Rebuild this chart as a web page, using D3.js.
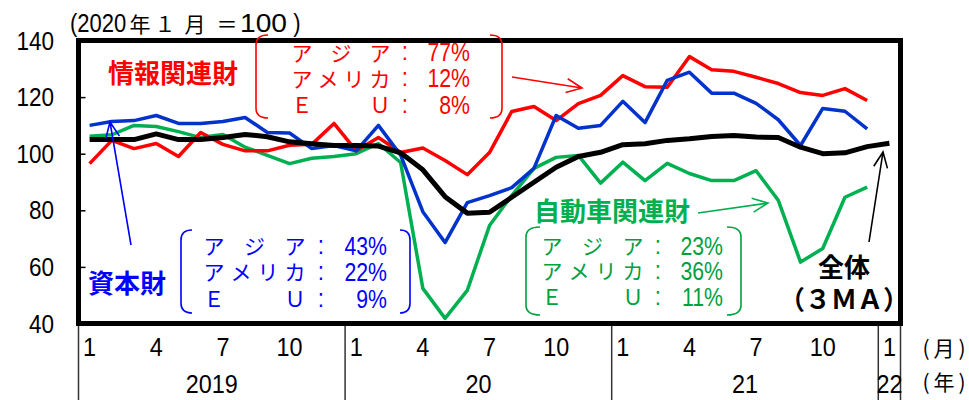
<!DOCTYPE html>
<html>
<head>
<meta charset="utf-8">
<script src="https://cdn.jsdelivr.net/npm/d3@7"></script>
<style>
  html, body { margin: 0; padding: 0; background: #fff; }
  svg { display: block; }
</style>
</head>
<body>
<svg id="chart" width="969" height="400"></svg>
<script>
// ---- Data -------------------------------------------------------------
// Monthly categories: Jan 2019 … Jan 2022
const years = ["2019", "2020", "2021", "2022"];
const categories = [];
years.forEach(yr => {
  for (let m = 1; m <= 12; m++) {
    if (yr === "2022" && m > 1) break;
    categories.push(yr + "-" + String(m).padStart(2, "0"));
  }
});

// Axis labels
const yTicks = [40, 60, 80, 100, 120, 140];
const monthTicks = ["1", "4", "7", "10"];
const yearAxisLabels = ["2019", "20", "21", "22"];

// Export indices (2020 Jan = 100)
const infoGoods = [96.5, 104.7, 101.8, 103.6, 99.0, 107.5, 103.3, 101.0, 101.0, 103.0, 103.3, 110.7,
                   101.0, 105.7, 100.4, 102.0, 97.6, 92.6, 100.4, 114.9, 116.7, 111.7, 117.7, 120.6,
                   127.6, 123.7, 123.5, 134.3, 129.7, 129.1, 127.0, 124.8, 121.6, 120.6, 123.0, 118.8];
const capitalGoods = [110.0, 111.4, 111.7, 113.5, 110.7, 110.7, 111.4, 112.8, 107.5, 107.3, 101.8, 102.9,
                      101.0, 110.0, 99.5, 79.5, 68.6, 82.7, 85.2, 88.0, 94.8, 113.5, 109.0, 110.0,
                      118.5, 111.0, 125.9, 128.8, 121.4, 121.4, 117.8, 112.0, 102.9, 116.0, 115.0, 108.8];
const autoGoods = [106.2, 106.7, 110.0, 109.6, 107.8, 105.7, 106.8, 102.3, 99.4, 96.5, 98.4, 99.0,
                   100.0, 103.6, 96.9, 52.4, 41.8, 51.7, 74.6, 85.2, 94.8, 98.7, 99.4, 89.6,
                   97.0, 90.5, 96.6, 93.0, 90.5, 90.5, 94.0, 83.5, 61.7, 66.5, 84.6, 88.2];
const total3MA = [105.0, 105.0, 105.0, 107.0, 105.0, 105.0, 105.7, 106.8, 106.0, 104.2, 103.5, 102.9,
                  102.9, 102.7, 100.3, 94.3, 84.8, 79.0, 79.3, 84.6, 89.9, 95.2, 99.0, 100.5,
                  103.2, 103.5, 104.7, 105.3, 106.1, 106.4, 105.9, 105.7, 102.3, 100.0, 100.3, 102.5, 103.7];

// Destination shares for each goods group
const regionNames = ["アジア", "アメリカ", "ＥＵ"];
const infoShares = ["77%", "12%", "8%"];
const capitalShares = ["43%", "22%", "9%"];
const autoShares = ["23%", "36%", "11%"];

// ---- Colours ----------------------------------------------------------
const RED = "#ff0000", BLUE = "#0033cc", BLUE_TXT = "#0000ff",
      GREEN = "#00b050", GREEN_TXT = "#00a040", BLACK = "#000000";
const JP = "'Noto Sans CJK JP', 'Noto Sans', sans-serif";
const NUM = "'Liberation Sans', Arial, sans-serif";

// ---- Scales -----------------------------------------------------------
const svg = d3.select("#chart");
const plotL = 78.5, plotR = 900.5, plotT = 40.5, plotB = 323.5;

const x = d3.scaleBand().domain(categories).range([plotL, plotR]).padding(0);
const cx = c => x(c) + x.bandwidth() / 2;
const y = d3.scaleLinear().domain([40, 140]).range([plotB, plotT]);

// Horizontally condensed numeric text
function ntext(parent, px, py, str, size, anchor, sx = 0.9, color = BLACK, weight = "normal") {
  return parent.append("text")
    .attr("transform", `translate(${px},${py}) scale(${sx},1)`)
    .attr("text-anchor", anchor)
    .attr("font-family", NUM)
    .attr("font-size", size)
    .attr("font-weight", weight)
    .attr("fill", color)
    .text(str);
}

// ---- Y axis (inward ticks) -------------------------------------------
const yAxis = svg.append("g")
  .attr("transform", `translate(${plotL},0)`)
  .call(d3.axisLeft(y).tickValues(yTicks).tickSize(-7).tickFormat(""));
yAxis.select(".domain").remove();
yAxis.selectAll(".tick line").attr("stroke", BLACK).attr("stroke-width", 1.5);
yTicks.forEach(v => ntext(svg, 54, y(v) + 9, String(v), 25, "end"));

// ---- X axis: months & years ------------------------------------------
const axisG = svg.append("g");
categories.forEach(c => {
  const m = String(+c.slice(5));
  if (monthTicks.includes(m)) {
    ntext(axisG, cx(c), 356, m, 26, "middle");
  }
});
// year separators
const yearStarts = years.map(yr => categories.indexOf(yr + "-01"));
const sepX = yearStarts.map(i => x(categories[i])).concat([plotR]);
sepX.forEach(px => {
  axisG.append("line")
    .attr("x1", px).attr("x2", px).attr("y1", plotB).attr("y2", 400)
    .attr("stroke", "#333").attr("stroke-width", 1.5);
});
years.forEach((yr, k) => {
  const mid = (sepX[k] + sepX[k + 1]) / 2;
  ntext(axisG, mid, 393, yearAxisLabels[k], 26, "middle");
});
// unit labels
[["(", 926], ["月", 944], [")", 962]].forEach(([t, px]) =>
  svg.append("text").attr("x", px).attr("y", 356).attr("text-anchor", "middle")
    .attr("font-family", JP).attr("font-size", 21).text(t));
[["(", 926], ["年", 944], [")", 962]].forEach(([t, px]) =>
  svg.append("text").attr("x", px).attr("y", 390).attr("text-anchor", "middle")
    .attr("font-family", JP).attr("font-size", 21).text(t));

// base note: (2020年１月＝100)
const note = svg.append("g").attr("font-family", JP).attr("fill", BLACK);
ntext(note, 70, 32, "(2020", 25, "start", 0.88);
[["年", 140], ["１", 165], ["月", 195], ["＝", 227]].forEach(([t, px]) =>
  note.append("text").attr("x", px).attr("y", 32).attr("font-size", 21)
    .attr("text-anchor", "middle").text(t));
note.append("text").attr("x", 240).attr("y", 32)
  .attr("font-family", NUM).attr("font-size", 25)
  .attr("textLength", 47).attr("lengthAdjust", "spacingAndGlyphs").text("100");
ntext(note, 297, 32, ")", 25, "middle", 0.88);

// ---- Series lines ----------------------------------------------------
const line = d3.line().x((d, i) => cx(categories[i])).y(d => y(d));
const series = [
  { data: autoGoods, color: GREEN, w: 3.5 },
  { data: infoGoods, color: RED, w: 3.5 },
  { data: capitalGoods, color: BLUE, w: 3.5 },
  { data: total3MA, color: BLACK, w: 5 }
];
series.forEach(s => {
  svg.append("path").datum(s.data)
    .attr("d", line)
    .attr("fill", "none")
    .attr("stroke", s.color)
    .attr("stroke-width", s.w)
    .attr("stroke-linejoin", "round");
});

// ---- Plot frame ------------------------------------------------------
svg.append("rect")
  .attr("x", plotL).attr("y", plotT)
  .attr("width", plotR - plotL).attr("height", plotB - plotT)
  .attr("fill", "none").attr("stroke", BLACK).attr("stroke-width", 5);

// ---- Annotations -----------------------------------------------------
function arrow(x1, y1, x2, y2, color, len = 17, ang = 0.42) {
  const a = Math.atan2(y1 - y2, x1 - x2);
  const w1 = [x2 + len * Math.cos(a + ang), y2 + len * Math.sin(a + ang)];
  const w2 = [x2 + len * Math.cos(a - ang), y2 + len * Math.sin(a - ang)];
  svg.append("path")
    .attr("d", `M${x1},${y1}L${x2},${y2}M${w1[0]},${w1[1]}L${x2},${y2}L${w2[0]},${w2[1]}`)
    .attr("fill", "none").attr("stroke", color).attr("stroke-width", 1.6);
}

function bracket(xe, xv, yt, yb, color) {
  const r = 10;
  svg.append("path")
    .attr("d", `M${xe},${yt}Q${xv},${yt} ${xv},${yt + r}L${xv},${yb - r}Q${xv},${yb} ${xe},${yb}`)
    .attr("fill", "none").attr("stroke", color).attr("stroke-width", 1.6);
}

// Breakdown block: names spread over a fixed width, colon column, % column
function shareBox(shares, color, lx, lw, colonX, pctX, rows, br) {
  const cw = 20;
  const names = svg.append("text")
    .attr("font-family", JP).attr("font-size", 21).attr("fill", color)
    .attr("text-anchor", "middle");
  regionNames.forEach((nm, k) => {
    const chars = Array.from(nm);
    const n = chars.length;
    chars.forEach((ch, i) => {
      names.append("tspan")
        .attr("x", lx + cw / 2 + i * (lw - cw) / (n - 1))
        .attr("y", rows[k] + 8)
        .text(ch);
    });
  });

  const colons = svg.append("text")
    .attr("transform", "scale(0.9,1)")
    .attr("font-family", NUM).attr("font-size", 25).attr("fill", color)
    .attr("text-anchor", "middle");
  rows.forEach(r => colons.append("tspan").attr("x", colonX / 0.9).attr("y", r + 8).text(":"));

  const pcts = svg.append("text")
    .attr("transform", "scale(0.85,1)")
    .attr("font-family", NUM).attr("font-size", 25).attr("fill", color)
    .attr("text-anchor", "end");
  shares.forEach((p, k) => pcts.append("tspan").attr("x", pctX / 0.85).attr("y", rows[k] + 9).text(p));

  bracket(br[0], br[1], br[4], br[5], color);
  bracket(br[2], br[3], br[4], br[5], color);
}

function label(lines, px, py, color, size = 26, gap = 32) {
  const t = svg.append("text")
    .attr("text-anchor", "middle")
    .attr("font-family", JP).attr("font-weight", "bold")
    .attr("font-size", size).attr("fill", color);
  lines.forEach((ln, i) => t.append("tspan").attr("x", px).attr("y", py + i * gap).text(ln));
}

// 情報関連財
label(["情報関連財"], 173, 83, RED);
shareBox(infoShares, RED, 292, 98, 405, 470, [52.5, 78.5, 105], [268, 256, 490, 502, 35, 118]);
arrow(512, 77, 582, 88, RED);

// 資本財
label(["資本財"], 127, 293, BLUE_TXT);
shareBox(capitalShares, BLUE_TXT, 204, 101, 321, 387, [246, 272, 299], [192, 181, 400, 410, 230, 313]);
arrow(131, 245, 110, 122, BLUE_TXT);

// 自動車関連財
label(["自動車関連財"], 612, 221, GREEN);
shareBox(autoShares, GREEN_TXT, 542, 101, 658, 723, [246, 271, 297], [540, 526, 727, 741, 227, 315]);
arrow(698, 213, 768, 203, GREEN);

// 全体（3MA）
label(["全体", "（３ＭＡ）"], 844, 277, BLACK);
arrow(869, 242, 883, 152, BLACK);
</script>
</body>
</html>
